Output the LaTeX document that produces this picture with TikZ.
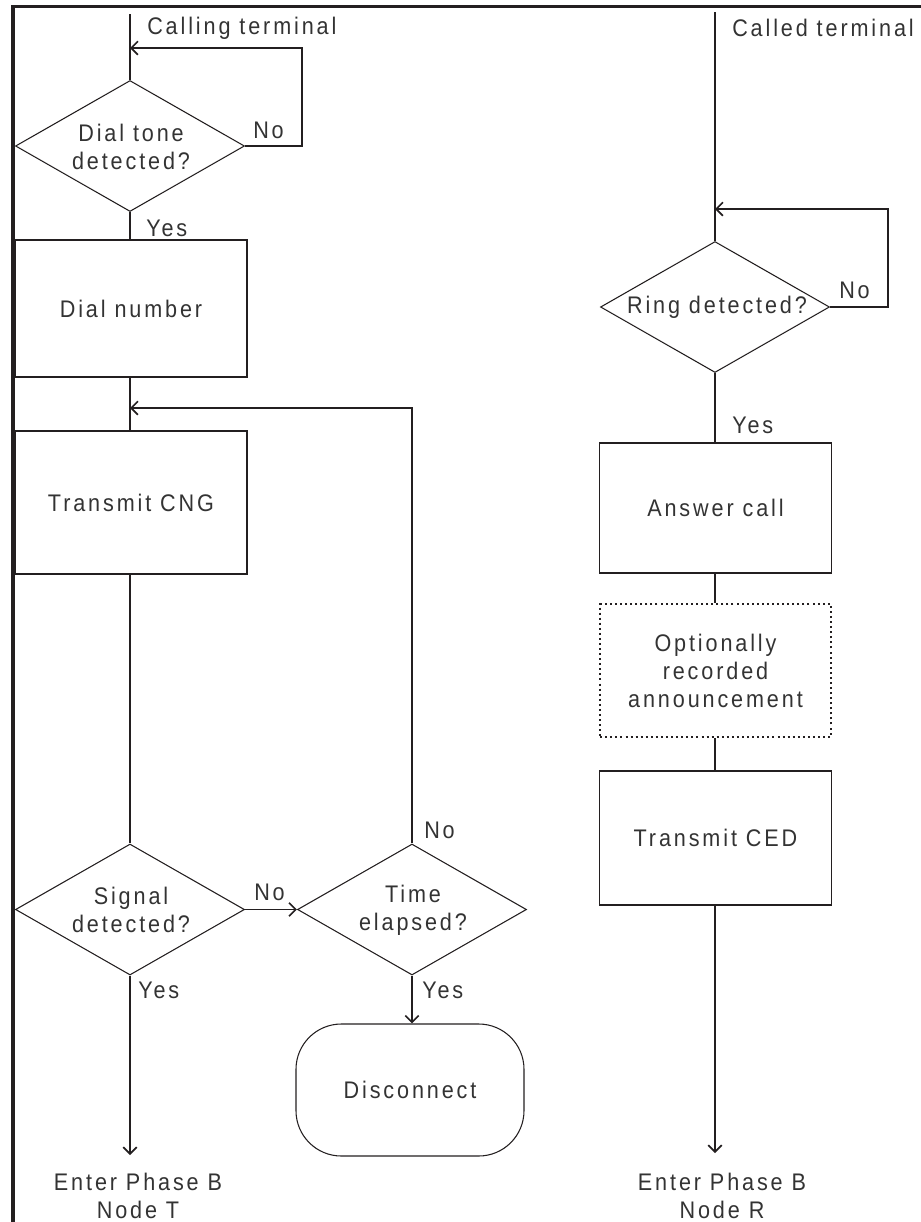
\documentclass[tikz,border=0pt]{standalone}
\usepackage{fontspec}
\setmainfont{Liberation Sans}[FakeStretch=0.9, LetterSpace=12]
\usetikzlibrary{shapes.geometric,arrows.meta}
\definecolor{ink}{HTML}{231F20}
\definecolor{txt}{HTML}{333333}
\begin{document}
\begin{tikzpicture}[x=0.75pt,y=-0.75pt,
  every node/.style={font=\fontsize{18}{21}\selectfont, text=txt},
  line/.style={draw=ink, line width=0.9pt},
  flow/.style={draw=ink, line width=1.3pt, -{Straight Barb[length=5pt,width=10pt,line width=1.3pt]}},
  stepbox/.style={rectangle, draw=ink, line width=0.8pt, minimum width=174pt, align=center},
  optbox/.style={rectangle, draw=ink, line width=1.5pt, dash pattern=on 1.5pt off 2.3pt, minimum width=173pt, align=center},
  endbox/.style={rectangle, rounded corners=34pt, draw=ink, line width=0.8pt, minimum width=171pt, minimum height=99pt},
  choice/.style={diamond, draw=ink, line width=0.8pt, inner sep=0pt, minimum width=171.75pt, minimum height=98.25pt},
  tag/.style={anchor=west, inner sep=0pt},
  words/.style={align=center, inner sep=0pt}]
\useasboundingbox (0,0) rectangle (921,1222);

% frame
\draw[ink, line width=2.4pt] (13,1240) -- (13,6.5) -- (940,6.5);

% ---------- calling terminal ----------
\coordinate (s1) at (130,14);
\coordinate (j1) at (130,48);
\node[choice] (d1) at (130,146) {};
\node[words] (d1t) at (131,147) {Dial tone\\detected?};
\node[stepbox, minimum height=102.75pt] (dial) at (131,308.5) {Dial number};
\coordinate (j2) at (130,408);
\node[stepbox, minimum height=107.25pt] (cng) at (131,502.5) {Transmit CNG};
\node[choice] (d2) at (130,909.5) {};
\node[words] (d2t) at (131,910) {Signal\\detected?};
\node[choice] (d3) at (412,909.5) {};
\node[words] (d3t) at (413,910) {Time\\elapsed?};
\node[endbox] (disc) at (410,1090) {Disconnect};
\coordinate (aT) at (130,1155);
\node[words] (endT) at (138,1196) {Enter Phase B\\Node T};

\node[tag] (lcall) at (147,28) {Calling terminal};
\node[tag] (ln1) at (253,130) {No};
\node[tag] (ly1) at (146,228) {Yes};
\node[tag] (ln2) at (254,892) {No};
\node[tag] (ly2) at (138,990) {Yes};
\node[tag] (ln3) at (424,830) {No};
\node[tag] (ly3) at (422,990) {Yes};

\draw[line] (s1) -- (d1.north);
\draw[flow] (d1.east) -- ++(57,0) |- (j1);
\draw[line] (d1.south) -- (dial.north -| d1.south);
\draw[line] (dial.south -| d1.south) -- (cng.north -| d1.south);
\draw[flow] (d3.north) |- (j2);
\draw[line] (cng.south -| d2.north) -- (d2.north);
\draw[flow] (d2.east) -- (d3.west);
\draw[flow] (d3.south) -- (d3.south |- disc.north);
\draw[flow] (d2.south) -- (aT);

% ---------- called terminal ----------
\coordinate (s2) at (715,12);
\coordinate (j3) at (715,209);
\node[choice] (d4) at (715,307) {};
\node[words] (d4t) at (717,307) {Ring detected?};
\node[stepbox, minimum height=97.5pt] (ans) at (715.5,508) {Answer call};
\node[optbox, minimum height=99.75pt] (opt) at (715.5,670.5) {Optionally\\recorded\\announcement};
\node[stepbox, minimum height=100.5pt] (ced) at (715.5,838) {Transmit CED};
\coordinate (aR) at (715,1153);
\node[words] (endR) at (722,1196) {Enter Phase B\\Node R};

\node[tag] (lcalled) at (732,28) {Called terminal};
\node[tag] (ln4) at (839,290) {No};
\node[tag] (ly4) at (732,425) {Yes};

\draw[line] (s2) -- (d4.north);
\draw[flow] (d4.east) -- ++(58,0) |- (j3);
\draw[line] (d4.south) -- (ans.north -| d4.south);
\draw[line] (ans.south -| d4.south) -- (opt.north -| d4.south);
\draw[line] (opt.south -| d4.south) -- (ced.north -| d4.south);
\draw[flow] (ced.south -| d4.south) -- (aR);
\end{tikzpicture}
\end{document}
